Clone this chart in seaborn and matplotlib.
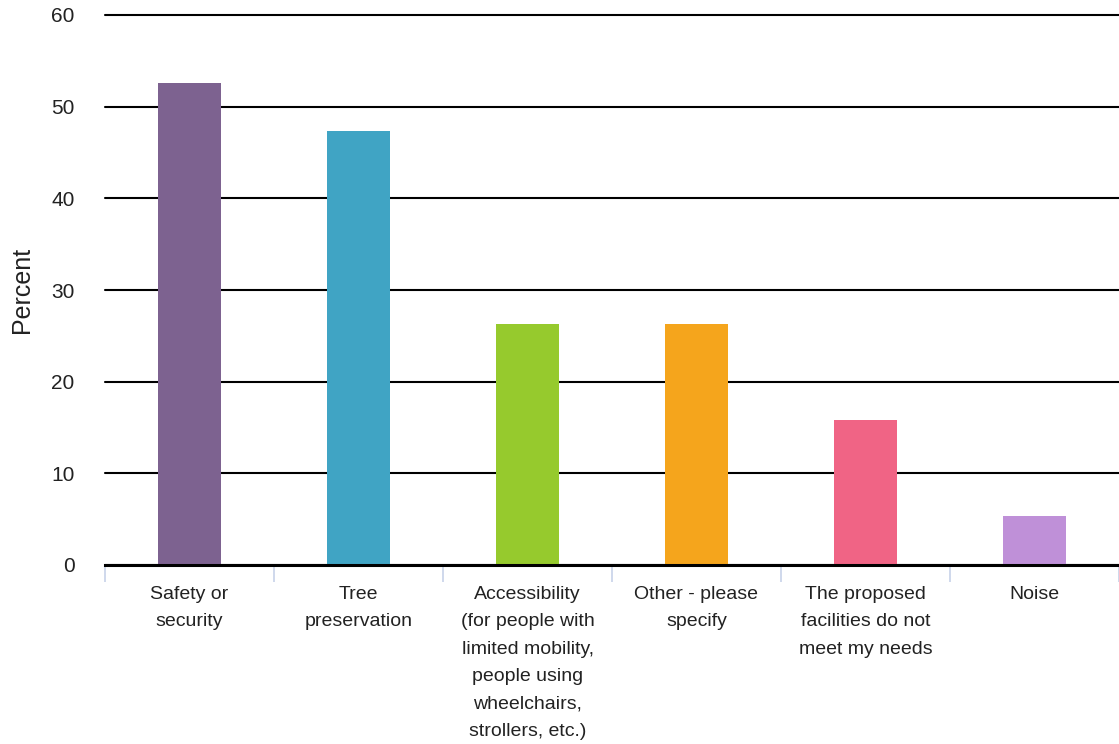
import matplotlib
matplotlib.use("Agg")
import matplotlib.pyplot as plt
import seaborn as sns
import pandas as pd

categories = [
    "Safety or\nsecurity",
    "Tree\npreservation",
    "Accessibility\n(for people with\nlimited mobility,\npeople using\nwheelchairs,\nstrollers, etc.)",
    "Other - please\nspecify",
    "The proposed\nfacilities do not\nmeet my needs",
    "Noise",
]
values = [52.6, 47.4, 26.3, 26.3, 15.8, 5.3]
colors = ["#7D6290", "#40A4C4", "#96CA2D", "#F5A51C", "#F06485", "#BF90D8"]
yticks = [0, 10, 20, 30, 40, 50, 60]

sns.set_theme(style="white")
plt.rcParams["font.family"] = ["Liberation Sans", "DejaVu Sans"]

df = pd.DataFrame({"cat": categories, "val": values})

fig = plt.figure(figsize=(11.19, 7.44), dpi=100)
ax = fig.add_axes([105 / 1119, 1 - 565 / 744, 1 - 105 / 1119, 550 / 744])

sns.barplot(data=df, x="cat", y="val", hue="cat", palette=colors,
            legend=False, width=0.375, saturation=1, ax=ax, zorder=3,
            linewidth=0, edgecolor="none")

ax.set_ylim(0, 60)
ax.set_xlim(-0.5, len(categories) - 0.5)
ax.set_yticks(yticks)
ax.set_yticklabels([str(t) for t in yticks], fontsize=15, color="#222222")
ax.yaxis.grid(True, color="black", linewidth=1.5, zorder=0)
ax.set_axisbelow(True)
for gl in ax.get_ygridlines():
    gl.set_clip_on(False)

for s in ["top", "right", "left"]:
    ax.spines[s].set_visible(False)
ax.spines["bottom"].set_color("black")
ax.spines["bottom"].set_linewidth(2.2)
ax.spines["bottom"].set_zorder(4)

ax.set_xticks([i for i in range(len(categories))])
ax.set_xticklabels(categories, fontsize=14, color="#222222", linespacing=1.8,
                   va="top")
ax.tick_params(axis="x", which="major", length=0, pad=15)
ax.tick_params(axis="y", length=0, pad=22)

# minor ticks at category boundaries
ax.set_xticks([i - 0.5 for i in range(len(categories) + 1)], minor=True)
ax.tick_params(axis="x", which="minor", bottom=True, length=12, width=1.3,
               color="#ccd6eb", direction="out")

ax.set_xlabel("")
ax.set_ylabel("Percent", fontsize=18, color="#222222", labelpad=12)

fig.savefig("out.png", dpi=100)
